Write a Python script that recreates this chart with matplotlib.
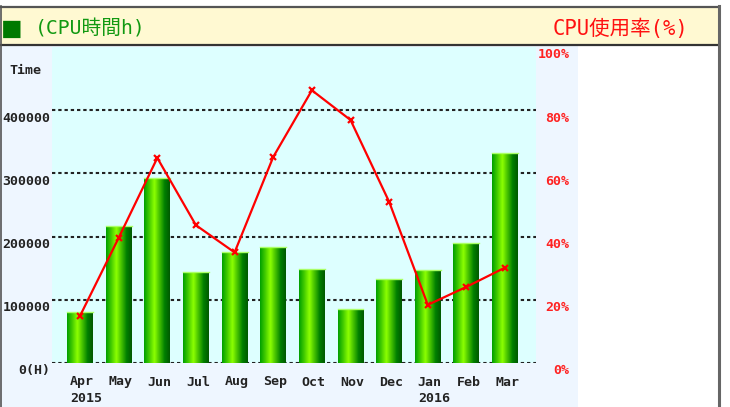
import numpy as np
import matplotlib.pyplot as plt
from matplotlib.patches import Rectangle
from matplotlib.colors import LinearSegmentedColormap
from matplotlib.transforms import ScaledTranslation

# data
months = ['Apr', 'May', 'Jun', 'Jul', 'Aug', 'Sep', 'Oct', 'Nov', 'Dec', 'Jan', 'Feb', 'Mar']
years = ['2015', '', '', '', '', '', '', '', '', '2016', '', '']
cpu_hours = [80500, 217500, 292500, 144500, 175500, 183500, 149500, 86000, 133300, 147600, 189400, 331700]
cpu_usage = [14.9, 39.6, 64.9, 43.6, 35.0, 65.2, 86.3, 76.9, 51.0, 18.4, 24.1, 30.2]
left_ticks = [0, 100000, 200000, 300000, 400000]
left_labels = ['0(H)', '100000', '200000', '300000', '400000']
right_ticks = [0, 20, 40, 60, 80, 100]
right_labels = ['0%', '20%', '40%', '60%', '80%', '100%']

W, H = 730, 407
fig = plt.figure(figsize=(W / 100, H / 100), dpi=100)
fig.patch.set_facecolor('white')

pix = dict(family='DejaVu Sans Mono', weight='bold', size=9.5)
head = ['DejaVu Sans Mono', 'Noto Sans CJK JP']


def px_rect(x0, y0, x1, y1, **kw):
    fig.patches.append(Rectangle((x0 / W, 1 - y1 / H), (x1 - x0) / W, (y1 - y0) / H,
                                 transform=fig.transFigure, zorder=-5, **kw))


def px_line(xs, ys, **kw):
    fig.lines.append(plt.Line2D([x / W for x in xs], [1 - y / H for y in ys],
                                transform=fig.transFigure, **kw))


# panels and frame
px_rect(0, 46, 578, 407, fc='#eef6ff', ec='none')
px_rect(0.5, 6, 718, 45, fc='#fff9d2', ec='none')
px_line([0.5, 718.5], [6.5, 6.5], color='#555555', lw=1.6)
px_line([0.5, 718.5], [45, 45], color='#333333', lw=1.6)
px_line([0.5, 0.5], [6, 407], color='#555555', lw=1.2)
px_line([718.5, 718.5], [6, 407], color='#666666', lw=2.2)

fig.text(3 / W, 1 - 29 / H, '■', color='#007a00', fontsize=21, family=head,
         va='center', ha='left')
fig.text(35 / W, 1 - 29 / H, '(CPU時間h)', color='#119911', fontsize=14.2, family=head,
         va='center', ha='left')
fig.text(688 / W, 1 - 29 / H, 'CPU使用率(%)', color='#ff1111', fontsize=14.8, family=head,
         va='center', ha='right')
fig.text(25 / W, 1 - 70 / H, 'Time', color='#222222', va='center', ha='center', **pix)

ax = fig.add_axes([52 / W, (H - 363) / H, 484 / W, 316 / H])
ax.set_facecolor('#ddffff')
x = np.arange(len(months))
for s in ax.spines.values():
    s.set_visible(False)
ax.set_axisbelow(True)
ax.yaxis.grid(True, color='#222222', lw=1.5, linestyle=(0, (1.6, 1.4)))

bars = ax.bar(x, cpu_hours, width=0.67, color='#33bb00', zorder=2)
cmap = LinearSegmentedColormap.from_list(
    'tube', ['#00a000', '#44cc00', '#8cff00', '#44c000', '#008000', '#005a00'])
grad = np.linspace(0, 1, 64).reshape(1, -1)
for b in bars:
    x0, w, h = b.get_x(), b.get_width(), b.get_height()
    im = ax.imshow(grad, cmap=cmap, aspect='auto', extent=(x0, x0 + w, 0, h),
                   interpolation='bilinear', zorder=3)
    im.set_clip_path(b)
    ax.plot([x0, x0 + w], [h, h], color='#aaff66', lw=1.0, zorder=4)
ax.set_xlim(-0.725, 11.8)
ax.set_ylim(0, 500000)

ax.set_yticks(left_ticks)
ax.set_yticklabels(left_labels, **pix)
ax.tick_params(axis='y', length=0, pad=1, labelcolor='#222222')
for lbl in ax.get_yticklabels():
    lbl.set_verticalalignment('top')
    lbl.set_transform(lbl.get_transform() + ScaledTranslation(0, -1 / 72, fig.dpi_scale_trans))

ax.set_xticks(x)
ax.set_xticklabels([m + '\n' + y for m, y in zip(months, years)], linespacing=1.35, **pix)
ax.tick_params(axis='x', length=0, pad=9, labelcolor='#222222')
for lbl in ax.get_xticklabels():
    lbl.set_horizontalalignment('left')
    lbl.set_multialignment('left')
    lbl.set_transform(lbl.get_transform() + ScaledTranslation(-10 / 100, 0, fig.dpi_scale_trans))

ax2 = ax.twinx()
ax2.set_ylim(0, 100)
for s in ax2.spines.values():
    s.set_visible(False)
ax2.plot(x, cpu_usage, color='#ff0000', lw=1.6, marker='x', ms=5, mew=1.6, zorder=5)
ax2.set_yticks(right_ticks)
ax2.set_yticklabels(right_labels, **pix)
ax2.tick_params(axis='y', length=0, pad=24, labelcolor='#ff2222')
for lbl in ax2.get_yticklabels():
    lbl.set_horizontalalignment('right')
    lbl.set_verticalalignment('top')
    lbl.set_transform(lbl.get_transform() + ScaledTranslation(0, -1 / 72, fig.dpi_scale_trans))

fig.savefig('out.png', dpi=100)
